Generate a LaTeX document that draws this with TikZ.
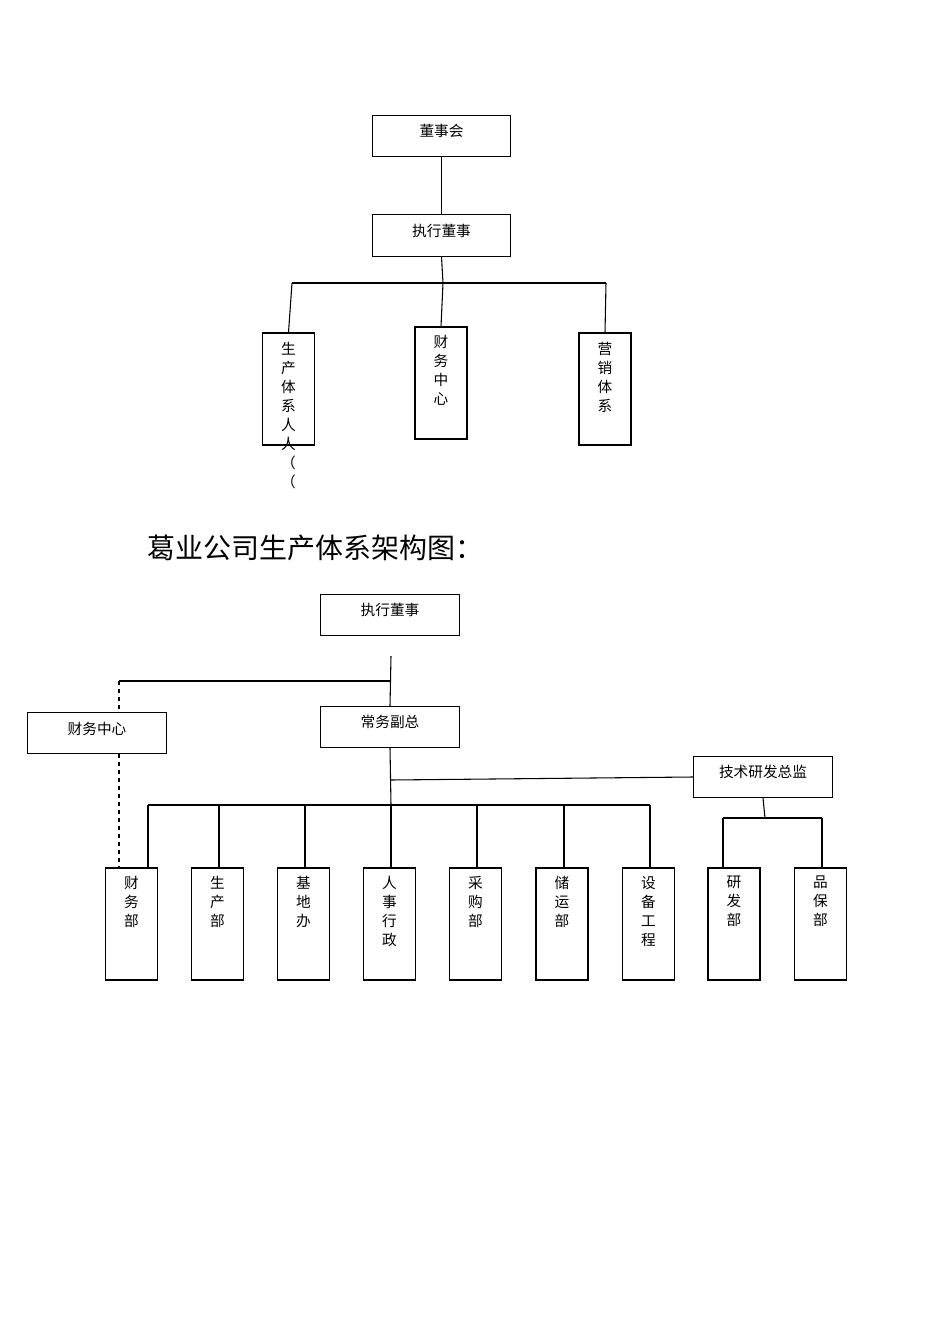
\documentclass[tikz,border=0pt]{standalone}
\usepackage{fontspec}
\setmainfont{Noto Sans CJK SC}
\begin{document}
\begin{tikzpicture}[x=0.75pt,y=-0.75pt,
  box/.style={draw,thick,inner sep=0pt},
  vt/.style={anchor=north,align=center,font=\fontsize{11}{14.25}\selectfont,inner sep=0pt},
  ht/.style={font=\fontsize{11}{13}\selectfont},
  ln/.style={thick}]
\useasboundingbox (0,0) rectangle (950,1344);
\newcommand{\bx}[5]{\node[box,minimum width=#3*0.75pt-0.8pt,minimum height=#4*0.75pt-0.8pt] (#1) at (#2) {};}
% top
\node[box,minimum width=104pt,minimum height=31pt] (ds) at (441.5,136) {}; \node[ht] at (441.5,131) {董事会};
\node[box,minimum width=104pt,minimum height=31pt] (zx) at (441.5,235.5) {}; \node[ht] at (441.5,231) {执行董事};
\node[box,minimum width=39pt,minimum height=84pt] (sc) at (288.5,389) {};
\node[vt] at (288.5,342) {生\\产\\体\\系\\人\\人\\（\\（};
\node[box,minimum width=39pt,minimum height=84pt] (cw) at (441,383) {};
\node[vt] at (441,335) {财\\务\\中\\心};
\node[box,minimum width=39pt,minimum height=84pt] (yx) at (605,389) {};
\node[vt] at (605,342) {营\\销\\体\\系};
\coordinate (t1) at (443,283); \coordinate (tl) at (292,283); \coordinate (tr) at (606,283);
\draw[ln] (ds.south) -- (zx.north);
\draw[ln] (zx.south) -- (t1);
\draw[ln] (tl) -- (tr);
\draw[ln] (tl) -- (sc.north);
\draw[ln] (t1) -- (cw.north);
\draw[ln] (tr) -- (yx.north);
% title
\node[anchor=west,font=\fontsize{21}{24}\selectfont] (title) at (143,548) {葛业公司生产体系架构图：};
% bottom
\node[box,minimum width=104pt,minimum height=31pt] (zx2) at (390,615) {}; \node[ht] at (390,610) {执行董事};
\node[box,minimum width=104pt,minimum height=31pt] (cwzx) at (97,733) {}; \node[ht] at (97,729) {财务中心};
\node[box,minimum width=104pt,minimum height=31pt] (cf) at (390,727) {}; \node[ht] at (390,722) {常务副总};
\node[box,minimum width=104pt,minimum height=31pt] (js) at (763,777) {}; \node[ht] at (763,772) {技术研发总监};
\coordinate (a0) at (391,656); \coordinate (a1) at (391,681); \coordinate (a2) at (119,681);
\coordinate (b1) at (391,780); \coordinate (b2) at (391,805);
\coordinate (hl) at (148,805); \coordinate (hr) at (650,805);
\draw[ln] (a0) -- (cf.north);
\draw[ln] (a1) -- (a2);
\draw[ln,dashed] (a2) -- (119,712);
\draw[ln] (cf.south) -- (b2);
\draw[ln] (b1) -- (js.west);
\draw[ln] (hl) -- (hr);
\foreach \n/\x/\t in {d1/131.5/财\\务\\部, d2/217.5/生\\产\\部, d3/303.5/基\\地\\办, d4/389.5/人\\事\\行\\政, d5/475.5/采\\购\\部, d6/562/储\\运\\部, d7/648.5/设\\备\\工\\程, d8/734/研\\发\\部, d9/820.5/品\\保\\部}{
  \node[box,minimum width=39pt,minimum height=84pt] (\n) at (\x,924) {};
  \node[vt] at (\x,876) {\t};
}
\draw[ln,dashed] (cwzx.south -| 119,0) -- (119,868);
\foreach \n/\x in {d1/148,d2/219,d3/305,d4/391,d5/477,d6/564,d7/650}{
  \draw[ln] (\x,805) -- (\n.north -| \x,0);
}
\coordinate (c1) at (765,818); \coordinate (cl) at (723,818); \coordinate (cr) at (822,818);
\draw[ln] (js.south) -- (c1);
\draw[ln] (cl) -- (cr);
\draw[ln] (cl) -- (d8.north -| cl);
\draw[ln] (cr) -- (d9.north -| cr);
\end{tikzpicture}
\end{document}
